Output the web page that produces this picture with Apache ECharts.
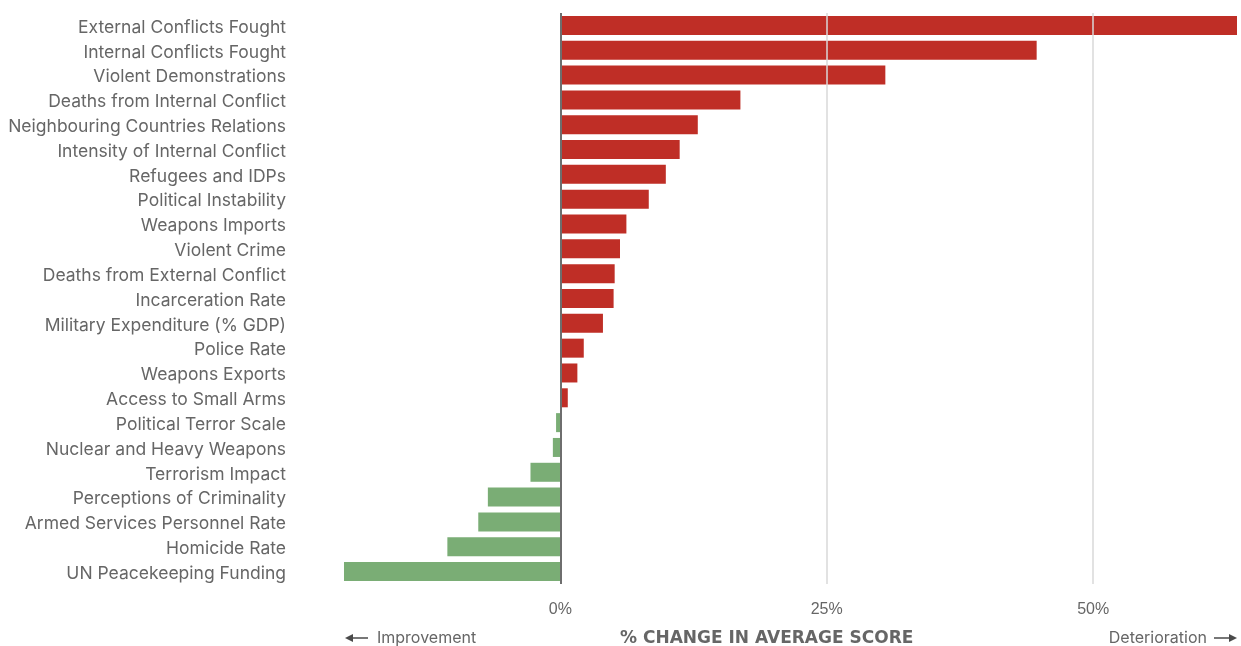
<!DOCTYPE html>
<html><head><meta charset="utf-8">
<script src="https://cdn.jsdelivr.net/npm/echarts@6/dist/echarts.min.js"></script>
<style>html,body{margin:0;padding:0;background:#fff}#c{width:1241px;height:646px}</style>
</head><body><div id="c"></div>
<script>
const categories = [
  "External Conflicts Fought","Internal Conflicts Fought","Violent Demonstrations",
  "Deaths from Internal Conflict","Neighbouring Countries Relations","Intensity of Internal Conflict",
  "Refugees and IDPs","Political Instability","Weapons Imports","Violent Crime",
  "Deaths from External Conflict","Incarceration Rate","Military Expenditure (% GDP)",
  "Police Rate","Weapons Exports","Access to Small Arms","Political Terror Scale",
  "Nuclear and Heavy Weapons","Terrorism Impact","Perceptions of Criminality",
  "Armed Services Personnel Rate","Homicide Rate","UN Peacekeeping Funding"
];
const values = [63.5,44.7,30.5,16.9,12.9,11.2,9.9,8.3,6.2,5.6,5.1,5.0,4.0,2.2,1.6,0.7,-0.4,-0.7,-2.8,-6.8,-7.7,-10.6,-20.3];
const tickValues = [0,25,50];
const axisMin = -20.3, axisMax = 63.5;

const RED = '#bf2e26', GREEN = '#7aad75', TXT = '#666666', ARROW = '#4a4a4a';
const chart = echarts.init(document.getElementById('c'));
chart.setOption({
  animation: false,
  grid: {left: 344, right: 4, top: 13, bottom: 62, containLabel: false},
  xAxis: {
    type: 'value', min: axisMin, max: axisMax,
    axisLine: {show: false}, axisTick: {show: false},
    splitLine: {show: false},
    axisLabel: {customValues: tickValues, formatter: v => v + '%', color: TXT, fontSize: 16,
      fontFamily: 'Liberation Sans', margin: 18}
  },
  yAxis: {
    type: 'category', data: categories, inverse: true,
    axisLine: {show: false, onZero: false}, axisTick: {show: false},
    axisLabel: {
      margin: 58,
      formatter: v => '{a|' + v + '}',
      rich: {a: {color: TXT, fontSize: 17.5, fontFamily: 'Inter', padding: [4, 0, 0, 0]}}
    }
  },
  graphic: [
    {type: 'text', left: 377, top: 630, style: {text: 'Improvement', fill: TXT, font: '16px Inter'}},
    {type: 'text', right: 34, top: 630, style: {text: 'Deterioration', fill: TXT, font: '16px Inter'}},
    {type: 'text', left: 620, top: 630, style: {text: '% CHANGE IN AVERAGE SCORE', fill: TXT, font: 'bold 17px "DejaVu Sans"'}},
    {type: 'line', shape: {x1: 352, y1: 638, x2: 368, y2: 638}, style: {stroke: ARROW, lineWidth: 1.5}},
    {type: 'polygon', shape: {points: [[345, 638], [353, 634], [353, 642]]}, style: {fill: ARROW}},
    {type: 'line', shape: {x1: 1214, y1: 638, x2: 1230, y2: 638}, style: {stroke: ARROW, lineWidth: 1.5}},
    {type: 'polygon', shape: {points: [[1237, 638], [1229, 634], [1229, 642]]}, style: {fill: ARROW}}
  ],
  series: [{
    type: 'bar', barWidth: 19,
    data: values.map(v => ({value: v, itemStyle: {color: v >= 0 ? RED : GREEN}})),
    markLine: {
      silent: true, symbol: 'none', label: {show: false},
      data: [
        {xAxis: 25, lineStyle: {color: '#d8d8d8', width: 1.5, type: 'solid'}},
        {xAxis: 50, lineStyle: {color: '#d8d8d8', width: 1.5, type: 'solid'}},
        {xAxis: 0, lineStyle: {color: '#6e6e6e', width: 2, type: 'solid'}}
      ]
    },
    z: 2
  }]
});
</script></body></html>
